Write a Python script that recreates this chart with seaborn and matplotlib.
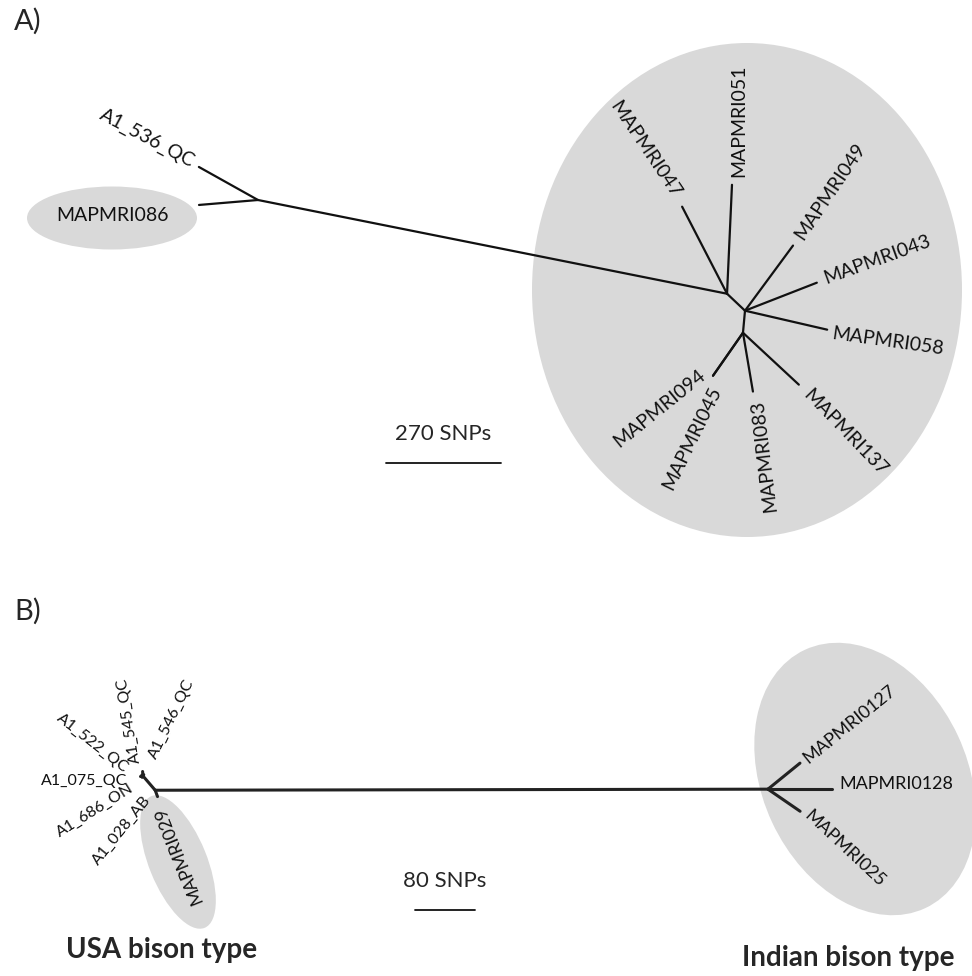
import numpy as np
import pandas as pd
import matplotlib
matplotlib.use("Agg")
import matplotlib.pyplot as plt
from matplotlib.patches import Ellipse
import seaborn as sns

# panel A tree: parent -> child, branch length (SNPs), branch angle (deg)
a_parent = ["nA", "nA", "nA", "nB", "nB", "nB", "nC", "nC", "nC", "nC", "nD", "nD", "nD", "nD"]
a_child = ["A1_536_QC", "MAPMRI086", "nB", "MAPMRI047", "MAPMRI051", "nC",
            "MAPMRI049", "MAPMRI043", "MAPMRI058", "nD",
            "MAPMRI094", "MAPMRI045", "MAPMRI083", "MAPMRI137"]
a_length = [159, 139, 1123, 230, 256, 58, 190, 181, 198, 52, 123, 123, 140, 179]
a_angle = [150.8, 184.8, -11.3, 117.3, 87.4, -43.4, 53.6, 21.3, -13.0, -95.2,
           -124.9, -124.9, -80.4, -42.9]

# panel B tree
b_parent = ["L1", "L1", "L1", "L1", "L1", "L1", "L1", "L2", "L2", "R", "R", "R"]
b_child = ["A1_545_QC", "A1_546_QC", "A1_522_QC", "A1_075_QC", "A1_686_ON", "A1_028_AB",
           "L2", "MAPMRI029", "R", "MAPMRI0127", "MAPMRI0128", "MAPMRI025"]
b_length = [6, 2, 2, 4, 2, 2, 25, 9, 817, 55, 85, 52]
b_angle = [95, 60, 140, 180, 210, 240, -49.4, -70, 0.1, 39.1, 0, -34.5]

scale_a = 270   # SNPs on scale bar
scale_b = 80

# label placement: rotation, alignment, offset from tip (px)
lab_a = {
    "A1_536_QC": (-28, "right", -6, -4),
    "MAPMRI086": (0, "center", -87, 11),
    "MAPMRI047": (-56, "right", -5, -11),
    "MAPMRI051": (90, "left", 7, -8),
    "MAPMRI049": (56, "left", 6, -8),
    "MAPMRI043": (20, "left", 8, -4),
    "MAPMRI058": (-8, "left", 5, 4),
    "MAPMRI137": (-46, "left", 7, 8),
    "MAPMRI083": (97, "right", 4, 8),
    "MAPMRI045": (64, "right", 4, 12),
    "MAPMRI094": (39, "right", -10, -3),
}
lab_b = {
    "MAPMRI0127": (39, "left", 5, -3),
    "MAPMRI0128": (0, "left", 8, -5),
    "MAPMRI025": (-43, "left", 7, 2),
    "A1_545_QC": (99, "left", -7, -8),
    "A1_546_QC": (64, "left", 9, -17),
    "A1_522_QC": (-38, "right", -15, -5),
    "A1_075_QC": (0, "right", -13, 5),
    "A1_686_ON": (32, "right", -9, 10),
    "A1_028_AB": (51, "right", 6, 20),
    "MAPMRI029": (112, "right", 1, 10),
}


def layout(parent, child, length, angle, root, root_xy, px_per_snp, tree):
    pos = {root: root_xy}
    rows = []
    for i, (p, c, l, a) in enumerate(zip(parent, child, length, angle)):
        x0, y0 = pos[p]
        r = l * px_per_snp
        x1 = x0 + r * np.cos(np.radians(a))
        y1 = y0 - r * np.sin(np.radians(a))
        pos[c] = (x1, y1)
        rows.append({"x": x0, "y": y0, "edge": f"{tree}{i}"})
        rows.append({"x": x1, "y": y1, "edge": f"{tree}{i}"})
    return pos, pd.DataFrame(rows)


px_a = 115 / scale_a
px_b = 60 / scale_b
pos_a, edges_a = layout(a_parent, a_child, a_length, a_angle, "nA", (258, 200), px_a, "a")
pos_b, edges_b = layout(b_parent, b_child, b_length, b_angle, "L1", (143, 776), px_b, "b")

sns.set_style("white")
plt.rcParams["font.family"] = ["Lato", "DejaVu Sans"]

fig = plt.figure(figsize=(9.72, 9.76), dpi=100)
ax = fig.add_axes([0, 0, 1, 1])
ax.set_xlim(0, 972)
ax.set_ylim(976, 0)
ax.axis("off")

grey = "#d9d9d9"
ax.add_patch(Ellipse((747, 290), 430, 494, color=grey, lw=0, zorder=0))
ax.add_patch(Ellipse((112, 218), 170, 63, color=grey, lw=0, zorder=0))
ax.add_patch(Ellipse((865, 779), 205, 285, angle=-25, color=grey, lw=0, zorder=0))
ax.add_patch(Ellipse((178, 862), 58, 142, angle=-22, color=grey, lw=0, zorder=0))

sns.lineplot(data=edges_a, x="x", y="y", units="edge", estimator=None, sort=False,
             color="#111111", lw=1.6, ax=ax, legend=False)
sns.lineplot(data=edges_b, x="x", y="y", units="edge", estimator=None, sort=False,
             color="#222222", lw=2.2, ax=ax, legend=False)
ax.set_xlim(0, 972)
ax.set_ylim(976, 0)
ax.axis("off")

for labs, pos, fs in [(lab_a, pos_a, 14), (lab_b, pos_b, 13)]:
    for name, (rot, ha, dx, dy) in labs.items():
        x, y = pos[name]
        size = 11.5 if name.startswith("A1_") and labs is lab_b else fs
        ax.text(x + dx, y + dy, name, rotation=rot, ha=ha, va="center",
                rotation_mode="anchor", fontsize=size, color="#111111")

# scale bars
ax.plot([386, 386 + scale_a * px_a], [463, 463], color="#111111", lw=1.3)
ax.text(386 + scale_a * px_a / 2, 434, f"{scale_a} SNPs", ha="center", va="center", fontsize=16)
ax.plot([415, 415 + scale_b * px_b], [910, 910], color="#111111", lw=1.3)
ax.text(415 + scale_b * px_b / 2, 881, f"{scale_b} SNPs", ha="center", va="center", fontsize=16)

ax.text(14, 8, "A)", ha="left", va="top", fontsize=21)
ax.text(14, 598, "B)", ha="left", va="top", fontsize=21)
ax.text(162, 958, "USA bison type", ha="center", va="baseline", fontsize=20, fontweight="bold")
ax.text(848, 966, "Indian bison type", ha="center", va="baseline", fontsize=20, fontweight="bold")

fig.savefig("out.png", dpi=100)
